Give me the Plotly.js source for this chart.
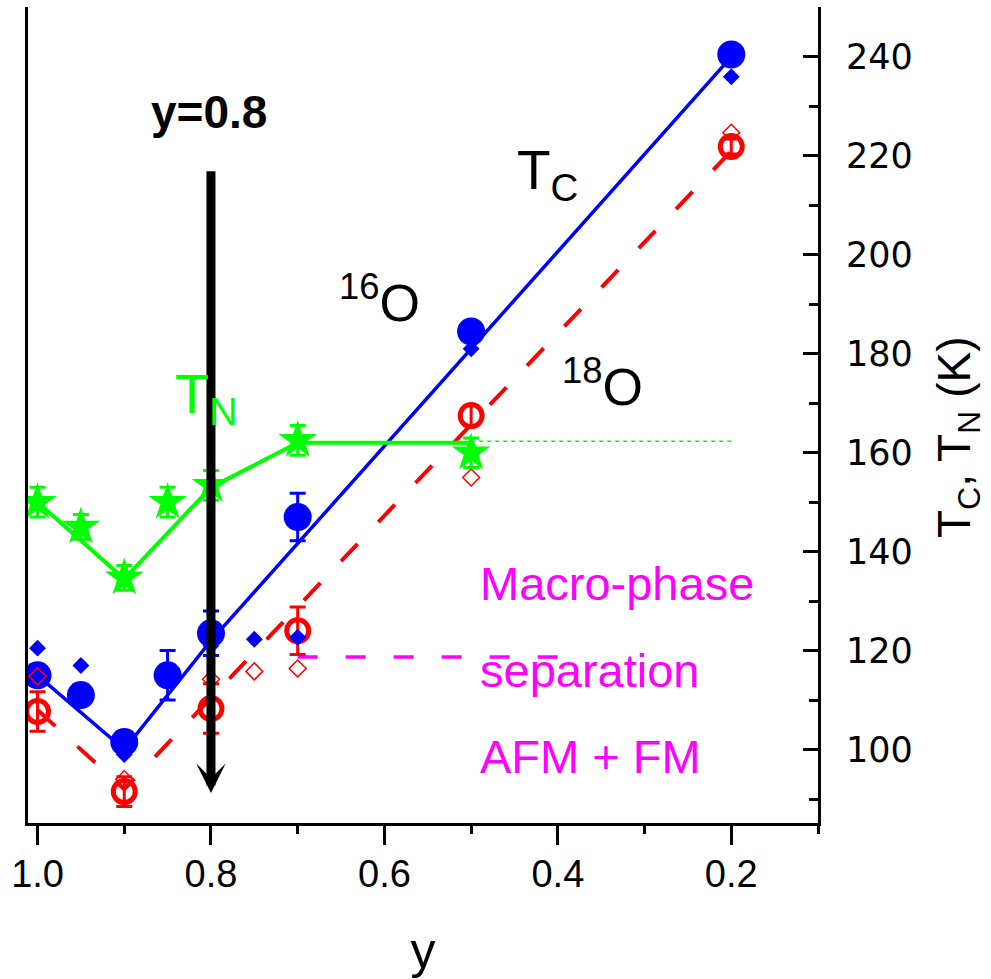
<!DOCTYPE html>
<html>
<head>
<meta charset="utf-8">
<script src="https://cdn.plot.ly/plotly-3.0.1.min.js"></script>
<style>html,body{margin:0;padding:0;background:#fff;}#chart{width:991px;height:979px;}</style>
</head>
<body>
<div id="chart"></div>
<script>
// ---- data (composition y, temperatures in K) ----
const tc16X = [1.0, 0.95, 0.9, 0.85, 0.8, 0.7, 0.5, 0.2];
const tc16Y = [115, 111, 101.5, 115, 123.5, 147, 184.5, 240.5];
const tc16Err = [2, 2, 2, 5, 4.5, 4.8, 2, 1.5];

const tc16dX = [1.0, 0.95, 0.9, 0.8, 0.75, 0.7, 0.5, 0.2];
const tc16dY = [120.5, 117, 99, 121, 122.3, 122.7, 181, 236];

const tc18X = [1.0, 0.9, 0.8, 0.7, 0.5, 0.2];
const tc18Y = [107.7, 91.5, 108.3, 124, 167.5, 221.9];
const tc18Err = [4, 3, 5, 4.8, 2, 1.5];

const tc18dX = [1.0, 0.9, 0.8, 0.75, 0.7, 0.5, 0.2];
const tc18dY = [114.8, 94, 114.2, 115.8, 116.4, 155, 224.7];

const tnX = [1.0, 0.95, 0.9, 0.85, 0.8, 0.7, 0.5];
const tnY = [150, 145, 134.7, 150, 153.4, 162.5, 160];
const tnErr = [3, 2.5, 2.5, 3, 3, 3, 3];

// guide lines
const guide16X = [1.0, 0.9, 0.8, 0.2];
const guide16Y = [115, 100, 122, 240];
const guide18X = [1.0, 0.9, 0.2];
const guide18Y = [108, 92, 221];
const guideNX = [1.0, 0.9, 0.8, 0.7, 0.5];
const guideNY = [150, 134.5, 153, 162, 162];
const tnExtX = [0.5, 0.2];
const tnExtY = [162.3, 162.3];
const macroX = [0.7, 0.38];
const macroY = [118.7, 118.7];

const xTicks = [1.0, 0.8, 0.6, 0.4, 0.2];
const xTickText = ["1.0", "0.8", "0.6", "0.4", "0.2"];

const BLUE = '#0000FF', RED = '#FF0000', GREEN = '#00FF00', MAG = '#FF00FF';

const traces = [
  {x: guide16X, y: guide16Y, mode: 'lines', line: {color: BLUE, width: 3.5}, hoverinfo: 'skip'},
  {x: guide18X, y: guide18Y, mode: 'lines', line: {color: RED, width: 4, dash: '24px,30px'}, hoverinfo: 'skip'},
  {x: guideNX, y: guideNY, mode: 'lines', line: {color: GREEN, width: 4}, hoverinfo: 'skip'},
  {x: tnExtX, y: tnExtY, mode: 'lines', line: {color: GREEN, width: 1.5, dash: '4px,4px'}, hoverinfo: 'skip'},
  {x: macroX, y: macroY, mode: 'lines', line: {color: MAG, width: 3.5, dash: '20px,28px'}, hoverinfo: 'skip'},
  {x: tc16X, y: tc16Y, mode: 'markers', marker: {symbol: 'circle', size: 28, color: BLUE},
   error_y: {type: 'data', array: tc16Err, visible: true, color: BLUE, thickness: 3, width: 8}},
  {x: tc18X, y: tc18Y, mode: 'markers', marker: {symbol: 'circle-open', size: 22, color: RED, line: {color: RED, width: 5}},
   error_y: {type: 'data', array: tc18Err, visible: true, color: RED, thickness: 3, width: 8}},
  {x: tc16dX, y: tc16dY, mode: 'markers', marker: {symbol: 'diamond', size: 13, color: BLUE}},
  {x: tc18dX, y: tc18dY, mode: 'markers', marker: {symbol: 'diamond-open', size: 13, color: RED, line: {color: RED, width: 1.5}}},
  {x: tnX, y: tnY, mode: 'markers', marker: {symbol: 'star', size: 29, color: GREEN},
   error_y: {type: 'data', array: tnErr, visible: true, color: GREEN, thickness: 3, width: 8}}
];

const F = 'Liberation Sans, Arial, sans-serif';

const layout = {
  width: 991, height: 979,
  margin: {l: 28, r: 173, t: 7, b: 156},
  paper_bgcolor: '#fff', plot_bgcolor: '#fff',
  showlegend: false,
  font: {family: F, color: '#000'},
  xaxis: {
    range: [1.011, 0.1], showgrid: false, zeroline: false,
    showline: true, linecolor: '#000', linewidth: 3, mirror: false,
    ticks: 'outside', ticklen: 19, tickwidth: 3, tickcolor: '#000',
    tickvals: xTicks, ticktext: xTickText,
    tickfont: {family: F, size: 38, color: '#000'},
    ticklabelstandoff: -4,
    minor: {ticks: 'outside', ticklen: 8, tickwidth: 3, tickcolor: '#000', tick0: 0.1, dtick: 0.2},
    title: {text: 'y', font: {family: F, size: 50, color: '#000'}, standoff: 44}
  },
  xaxis2: {
    overlaying: 'x', side: 'top', range: [1.011, 0.1], showgrid: false, zeroline: false,
    showline: true, linecolor: '#000', linewidth: 2,
    ticks: 'inside', ticklen: 16, tickwidth: 3, tickcolor: '#000',
    tickvals: xTicks, showticklabels: false
  },
  yaxis: {
    range: [85.15, 250.1], side: 'right', showgrid: false, zeroline: false,
    showline: true, linecolor: '#000', linewidth: 3, mirror: true,
    ticks: 'inside', ticklen: 15, tickwidth: 3, tickcolor: '#000',
    tick0: 0, dtick: 20,
    tickfont: {family: 'DejaVu Sans, sans-serif', size: 35, color: '#000'},
    ticklabelstandoff: 18,
    minor: {ticks: 'inside', ticklen: 9, tickwidth: 3, tickcolor: '#000', tick0: 0, dtick: 10}
  },
  annotations: [
    {x: 0.8, y: 91.2, ax: 0.8, ay: 217.2, xref: 'x', yref: 'y', axref: 'x', ayref: 'y',
     showarrow: true, arrowhead: 3, arrowwidth: 9, arrowsize: 0.55, arrowcolor: '#000', text: ''},
    {x: 0.8023, y: 228.9, xref: 'x', yref: 'y', text: '<b>y=0.8</b>', showarrow: false,
     xanchor: 'center', yanchor: 'middle', font: {family: F, size: 46, color: '#000'}},
    {x: 0.449, y: 216.3, xref: 'x', yref: 'y', text: 'T<sub>C</sub>', showarrow: false,
     xanchor: 'left', yanchor: 'middle', font: {family: F, size: 55, color: '#000'}},
    {x: 0.6546, y: 191, xref: 'x', yref: 'y', text: '<sup>16</sup>O', showarrow: false,
     xanchor: 'left', yanchor: 'middle', font: {family: F, size: 52, color: '#000'}},
    {x: 0.397, y: 174, xref: 'x', yref: 'y', text: '<sup>18</sup>O', showarrow: false,
     xanchor: 'left', yanchor: 'middle', font: {family: F, size: 52, color: '#000'}},
    {x: 0.844, y: 171.2, xref: 'x', yref: 'y', text: 'T<sub>N</sub>', showarrow: false,
     xanchor: 'left', yanchor: 'middle', font: {family: F, size: 56, color: GREEN}},
    {x: 0.492, y: 133.5, xref: 'x', yref: 'y', text: 'Macro-phase', showarrow: false,
     xanchor: 'left', yanchor: 'middle', font: {family: F, size: 47, color: MAG}},
    {x: 0.492, y: 116, xref: 'x', yref: 'y', text: 'separation', showarrow: false,
     xanchor: 'left', yanchor: 'middle', font: {family: F, size: 47, color: MAG}},
    {x: 0.492, y: 98.5, xref: 'x', yref: 'y', text: 'AFM + FM', showarrow: false,
     xanchor: 'left', yanchor: 'middle', font: {family: F, size: 47, color: MAG}},
    {x: 1.176, y: 0.473, xref: 'paper', yref: 'paper', text: 'T<sub>C</sub>, T<sub>N</sub> (K)',
     textangle: -90, showarrow: false, xanchor: 'center', yanchor: 'middle',
     font: {family: F, size: 46, color: '#000'}}
  ]
};

Plotly.newPlot('chart', traces, layout, {displayModeBar: false, staticPlot: true});
</script>
</body>
</html>
